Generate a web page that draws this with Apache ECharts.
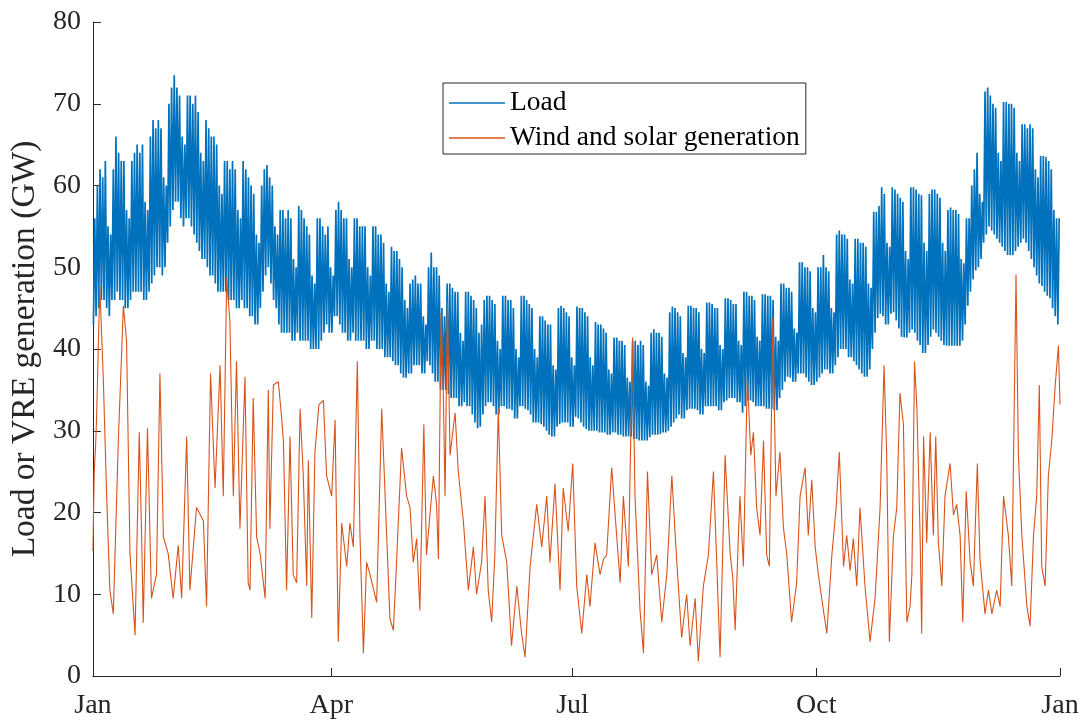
<!DOCTYPE html>
<html>
<head>
<meta charset="utf-8">
<script src="https://cdn.jsdelivr.net/npm/echarts@6/dist/echarts.min.js"></script>
<style>
  html, body { margin: 0; padding: 0; background: #fff; }
  #chart { width: 1086px; height: 722px; }
</style>
</head>
<body>
<div id="chart"></div>
<script>
// X tick positions (day of year) and their labels
const tickDays = [0, 90, 181, 273, 365];
const tickLabels = ['Jan', 'Apr', 'Jul', 'Oct', 'Jan'];

// Daily peak load (GW), day 0 = 1 Jan
const loadHigh = [
  56,60,62,61,63,55,54, 62,66,64,63,63,57,56, 63,64,65,64,65,58,57, 66,68,67,68,67,61,60,
  70,72,73.5,72,71,66,65, 71,71,70,71,69,64,63, 68,67,66,66,65,60,59, 63,63,62,63,62,57,56,
  63,62,61,60,59,54,53, 60,62,62.5,61,60,55,54, 57,57,56,57,56,51,50, 57.5,57,56,55,54,49,48,
  56,56,55,54,55,50,49, 57,58,57,56,56,51,50, 56,56,55,55,55,50,49, 55,55,54,54,53,48,47,
  52.5,52,52,51,50,46,45, 48,48.5,49,48,48,44,43, 50,51.8,50,50,49,45,44, 48,48,47.5,47,47,42,41,
  47,47,46.5,46,45,42,43, 46,46.5,46.5,46,45.5,41,40, 46.5,46.5,46,46,45,40,39, 46.5,46.5,46,45.5,45,40,39,
  44,44,43.5,43,43,38,37.5, 45,45.3,45,44.5,44,39,38, 45.2,45,45,44.5,44,39,38, 43.3,43,43,42.5,42,37.5,37,
  41.4,41.4,41,41,40.5,36.5,36, 41,41,40.5,41,40.5,36,35.5, 42,42.4,42,42,41.5,37,36.5, 44.5,45.2,45,44.5,44,39.5,39,
  45.3,45.3,45,45,44.5,40,39.5, 45.7,45.7,45.5,45,45,40.5,40, 46.2,46.2,46,45.5,45.5,41,40.5, 47,47,46.5,46.5,46,41.5,41,
  46.7,46.7,46.5,46.5,46,41.5,41, 48,48,47.5,47.5,47,42.5,42, 50.6,50.6,50,50,49.5,45,44.5, 50,50,51.5,50,49.5,45,44.5,
  54,54.5,54,54,53.5,48.5,48, 53.5,53.5,53,53,52.5,48,47.5, 56.8,56.8,57.5,59.8,59,53,52.5, 59.8,59.5,59,58.5,58,52,51,
  59.8,59.8,59.5,59,58.8,53,52, 59,59.5,59.5,59,58.5,53,52, 57,57.3,57,57,56.5,51,50.5, 56,56,60,62,64,59,58,
  71.5,72,71,70,69.5,64,63, 70.2,70.2,70,70,69.5,64,63, 67.5,67.5,67,67.5,67,62,61, 63.6,63.6,63.5,63,62,57,56,
  56
];

// Daily minimum (night) load (GW)
const loadLow = [
  43,44,45,46,46,45,44, 46,46,47,46,46,45,45, 46,47,47,47,47,46,46, 47,48,49,50,50,49,50,
  53,55,57,58,58,56,55, 56,56,55,54,53,52,51, 51,50,49,49,48,47,47, 47,47,46,46,46,45,45,
  46,45,45,44,44,43,43, 45,47,49,50,48,46,45, 43,42,42,42,42,41,41, 42,41,41,41,41,40,40,
  40,40,41,42,43,42,42, 44,44,43,42,42,41,41, 42,41,41,41,41,40,40, 41,41,40,40,40,39,39,
  39,38.5,38,38,37,36.5,36.5, 37,37,38,38,38,37,37, 38.5,38,37,36,36,35,35, 35,34.5,34,34,34,33,33,
  33.5,33,33,32,31,30.3,30.5, 32,33,33.5,33.5,33,32,32, 33,33,32.7,32.7,32.5,31.5,31.5, 33,33,32.7,32.5,32,31,31,
  31,30.8,30.5,30,29.5,29.3,29.3, 30.5,30.8,31,31,31,30.5,30.5, 31.7,31.5,31,30.5,30.2,30,30, 30,30,29.8,29.8,29.8,29.5,29.5,
  29.8,29.8,29.5,29.5,29.3,29.3,29.3, 29.3,29,29,28.8,28.8,28.8,28.8, 29.2,29.5,29.5,29.5,29.6,29.8,29.8, 30,30.5,31,31.5,32,31.5,31.5,
  32.5,32.7,32.7,32.7,32.5,32,32, 33,33,33,33,33,32.5,32.5, 33.5,33.7,34,34,34,33.5,33.5, 32.2,33,33.7,33.7,33.5,33,33,
  33,33,32.7,32.7,32.7,32.5,32.5, 34,35,36,36.6,36.5,36,36, 37,37,37,36.5,36,35.6,35.6, 36,36.5,37,37.5,37.5,37,37,
  38,39,40,40,40,39,39, 38.5,38,37.5,37,36.6,36.6,37.5, 40,42,43.8,44.3,44,43,43, 44.3,44.5,43.5,42.5,41.5,41.4,41.4,
  42,42.4,42,41,40.5,39.5,39.5, 40.5,41.5,42.4,42,41.5,41,40.5, 40.4,40.4,40.4,40.4,40.4,40.4,41, 43,45.3,47,48.5,49.6,50,51,
  53,54,55,54.5,54,53.5,53, 52.5,52,51.5,51.5,51.5,52,52.5, 53,53.5,53,52,51,50,49, 48,47.7,47,46.5,46.2,45,44,
  43
];

// Wind and solar generation: sample times (day of year) and values (GW)
const vreDay = [
  0,0.5,1,1.4,2.6,3.9,5.2,6.4,7.7,9.6,11.5,12.7,14,15.9,17.5,18.4,19,20.6,22.1,24,25.3,26.6,28.4,30.3,32.2,33.5,35.4,36.6,39.1,41.7,42.9,44.4,46.1,48,49.2,50.5,51.7,53,54.2,55.5,57.4,58.6,
  59.3,60.5,61.8,63.1,65,66.2,66.8,68.1,70,71.2,71.9,73.1,74.4,75.6,76.9,78.2,79.4,80.7,81.3,82.6,83.8,85.3,87,88.2,90.1,91.4,92.6,93.9,95.8,97,98.3,99.8,100.8,102.1,103.3,104.6,107.1,109,110.9,112.1,113.4,114.6,116.5,118.4,
  119.7,120.9,122.2,123.4,124.9,125.9,127.2,128.5,129.7,130.4,131.4,132.2,132.9,133.8,134.8,136.7,137.9,139.8,141.7,143.6,144.8,146.7,148,149.2,150.5,151.7,153,154.3,156.2,158,160,161.8,163.1,165,167.5,169.4,171.3,172.5,174.4,176.3,177.5,179.4,
  181.1,182.6,184.5,186.4,187.6,189.5,191.4,192.7,193.9,195.8,197.1,199,200.2,202.1,203.7,204.6,206.5,207.8,209.3,210.9,212.8,214.7,216.6,218.5,220.3,222.2,224.1,225.4,227.3,228.5,230.4,232.3,234.2,235.4,236.7,238.6,
  240.5,241.5,242.4,243.6,244.2,245.5,247,248.3,249.3,250.5,251.8,253.1,254.3,255.3,256.6,257.8,259.3,260.6,261.9,263.7,265.6,266.9,268.8,270,271.3,272.6,273.8,275.5,277,278.9,280.5,281.7,283.3,284.5,285.8,287,288.3,289.5,291.4,293.3,295.2,297.1,298.6,299.6,300.6,
  302.1,303.4,304.6,305.9,307.2,308.4,309.1,310.1,311,312.2,312.8,313.5,314.7,316,317.2,318.1,319.1,320.4,321.6,323.5,324.8,326,327.3,328.3,329.6,331.1,332.3,333.8,334.8,336.7,338,339.3,341.1,342.4,343.7,345.5,346.8,348.4,349.3,350.6,352.5,353.7,355,356.2,357.2,358.1,359.4,360.6,361.9,363.2,364.4,365
];
const vreGW = [
  15.3,25,28,31.7,47.7,36.6,22,10.5,7.6,28.8,45.3,41,15,5,29.8,17,6.5,30.3,9.5,12.4,37,17,15,9.5,16,9.5,29.3,10.5,20.6,19,8.5,37,23,38,22,48.7,43.4,22,38.5,18,36.6,11.4,
  10.5,34,17,15,9.5,35,18,35.6,36,31.7,28.8,10.5,29.3,12.4,11.4,32.7,24.5,11,26.4,7.1,27.4,33.2,33.7,24.5,22,31.3,4.2,18.7,13.4,18.7,15.8,38.5,17.2,2.8,13.9,12.4,9,32.7,17,7,5.6,13.9,27.9,22,
  20.6,13.9,16.8,8,30.8,14.8,19.7,24.5,21,14.3,44.3,35.6,22,45.7,27,32.2,25,19,10.5,15.8,10,13.9,22,10.5,6.6,14.8,32.7,17.2,13.9,3.7,11,5.2,2.3,13.4,21,15.8,22,13.9,23.5,10.5,23,17.7,
  26,11,5.2,12.4,8.5,16.3,12.4,14.3,14.8,25.5,19.7,11.4,22,13.4,41.4,22,8,2.8,25,12.4,14.8,6.6,12.4,24.5,14.3,4.7,10,3.7,9.5,1.8,11,14.8,25,14.3,2.3,27,
  15,12,5.6,17,22,13.4,36.6,27,29.8,20.6,17.2,28.8,14.8,13.4,43.8,22,27.4,18.2,14.8,6.6,11.4,22,25.5,17.2,24,15.8,12.4,8.5,5.2,14.8,20.6,27.4,13.4,17.2,12.9,16.8,11,20.6,11,4.2,9.5,20.6,38,27,4.2,
  17,20.6,34.6,30.8,6.6,8.5,12.4,38.5,32.7,17.2,5.2,29.3,16.3,29.8,17.2,29.3,16.3,11,22,26,19.7,21,17.2,6.6,22.6,13.9,11,26,14.3,7.6,10.5,7.6,10.5,8.5,22,17.2,11,49.1,27,17.2,8.5,6.1,17.2,22,35.6,13.4,11,24.5,28.8,35.6,40.4,33.2
];

const seriesNames = ['Load', 'Wind and solar generation'];
const yTickMax = 80;

// build data pairs: night minimum then daytime peak for each day
const loadData = [];
for (let d = 0; d < loadHigh.length; d++) {
  loadData.push([d + 0.2, loadLow[d]]);
  loadData.push([d + 0.7, loadHigh[d]]);
}
const vreData = vreDay.map((d, i) => [d, vreGW[i]]);

const FONT = '"Liberation Serif", "Times New Roman", serif';
const AXIS_COLOR = '#262626';

const chart = echarts.init(document.getElementById('chart'), null, { renderer: 'canvas' });
chart.setOption({
  animation: false,
  backgroundColor: '#ffffff',
  grid: { left: 92, right: 26, top: 22, bottom: 46, containLabel: false },
  legend: {
    orient: 'vertical',
    left: 443,
    top: 83,
    padding: [6, 6, 2, 6],
    itemGap: 7,
    itemWidth: 56,
    itemHeight: 1.5,
    backgroundColor: '#ffffff',
    borderColor: AXIS_COLOR,
    borderWidth: 1,
    borderRadius: 0,
    textStyle: { fontFamily: FONT, fontSize: 27.5, color: '#000' },
    data: [
      { name: seriesNames[0], icon: 'rect', itemStyle: { color: '#0072BD' } },
      { name: seriesNames[1], icon: 'rect', itemStyle: { color: '#D95319' } }
    ]
  },
  xAxis: {
    type: 'value',
    min: 0,
    max: 365,
    axisLine: { show: true, onZero: false, lineStyle: { color: AXIS_COLOR, width: 1 } },
    axisTick: { show: true, inside: true, length: 8, customValues: tickDays, lineStyle: { color: AXIS_COLOR } },
    axisLabel: {
      customValues: tickDays,
      formatter: function (v) { return tickLabels[tickDays.indexOf(v)] || ''; },
      fontFamily: FONT, fontSize: 28, color: '#262626', margin: 16, hideOverlap: false
    },
    splitLine: { show: false }
  },
  yAxis: {
    type: 'value',
    min: 0,
    max: yTickMax,
    interval: 10,
    name: 'Load or VRE generation (GW)',
    nameLocation: 'middle',
    nameGap: 46,
    nameTextStyle: { fontFamily: FONT, fontSize: 33.5, color: '#262626' },
    axisLine: { show: true, lineStyle: { color: AXIS_COLOR, width: 1 } },
    axisTick: { show: true, inside: true, length: 8, lineStyle: { color: AXIS_COLOR } },
    axisLabel: { fontFamily: FONT, fontSize: 28, color: '#262626', margin: 12 },
    splitLine: { show: false }
  },
  series: [
    {
      name: seriesNames[0],
      type: 'line',
      data: loadData,
      showSymbol: false,
      symbol: 'none',
      lineStyle: { color: '#0072BD', width: 1.7, join: 'miter' },
      itemStyle: { color: '#0072BD' },
      z: 2
    },
    {
      name: seriesNames[1],
      type: 'line',
      data: vreData,
      showSymbol: false,
      symbol: 'none',
      lineStyle: { color: '#D95319', width: 1.1 },
      itemStyle: { color: '#D95319' },
      z: 3
    }
  ]
});
</script>
</body>
</html>
